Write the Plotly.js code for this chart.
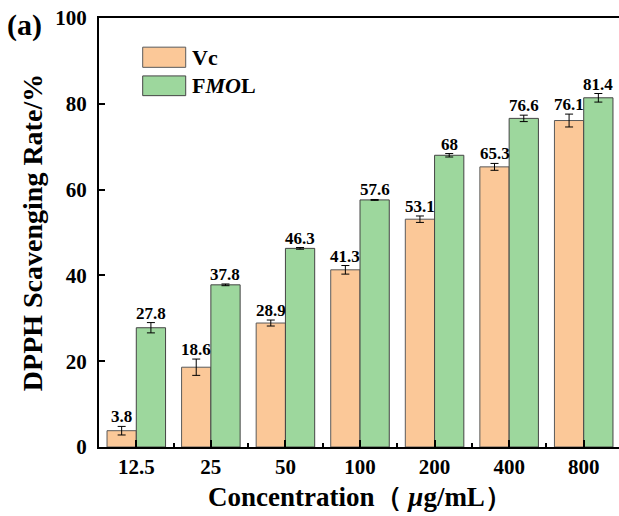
<!DOCTYPE html>
<html>
<head>
<meta charset="utf-8">
<script src="https://cdn.plot.ly/plotly-3.0.1.min.js"></script>
<style>
  html, body { margin: 0; padding: 0; overflow: hidden; background: #fff; }
  #chart { width: 621px; height: 516px; }
</style>
</head>
<body>
<div id="chart"></div>
<script>
// DPPH radical scavenging rate at each concentration
const concentrations = ['12.5', '25', '50', '100', '200', '400', '800'];
const vcRate   = [3.8, 18.6, 28.9, 41.3, 53.1, 65.3, 76.1];
const vcErr    = [1.0, 1.9, 0.7, 1.0, 0.75, 0.8, 1.5];
const fmolRate = [27.8, 37.8, 46.3, 57.6, 68, 76.6, 81.4];
const fmolErr  = [1.2, 0.2, 0.2, 0.1, 0.4, 0.75, 1.0];

const FONT = 'Liberation Serif, Times New Roman, serif';
const idx = concentrations.map((_, i) => i);
const BARGAP = 0.215;
const half = (1 - BARGAP) / 4;   // offset of each bar centre from the group centre

const errStyle = { type: 'data', visible: true, color: '#000', thickness: 1, width: 4 };

const traces = [
  {
    type: 'bar', name: 'Vc', x: idx, y: vcRate,
    marker: { color: '#FBC898', line: { color: '#5a5a5a', width: 1 } },
    error_y: Object.assign({ array: vcErr }, errStyle),
    hoverinfo: 'skip'
  },
  {
    type: 'bar', name: 'FMOL', x: idx, y: fmolRate,
    marker: { color: '#9DD79D', line: { color: '#444', width: 1 } },
    error_y: Object.assign({ array: fmolErr }, errStyle),
    hoverinfo: 'skip'
  }
];

// value labels sit just above each error bar
const labelFont = { family: FONT, size: 17, color: '#000', weight: 'bold' };
const annotations = [];
idx.forEach(i => {
  annotations.push({
    x: i - half, y: vcRate[i] + vcErr[i], xref: 'x', yref: 'y',
    text: String(vcRate[i]), showarrow: false, yanchor: 'bottom', yshift: -2,
    font: labelFont
  });
  annotations.push({
    x: i + half, y: fmolRate[i] + fmolErr[i], xref: 'x', yref: 'y',
    text: String(fmolRate[i]), showarrow: false, yanchor: 'bottom', yshift: -2,
    font: labelFont
  });
});

// panel tag
annotations.push({
  x: 0, y: 1, xref: 'paper', yref: 'paper', xanchor: 'left', yanchor: 'top',
  text: '(a)', showarrow: false, xshift: -94, yshift: 12,
  font: { family: FONT, size: 30, color: '#000', weight: 'bold' }
});

// legend entries
const legendItems = [
  { label: 'Vc', color: '#FBC898', y0: 88.5, y1: 93.2, line: '#5a5a5a' },
  { label: 'F<i>MO</i>L', color: '#9DD79D', y0: 81.9, y1: 86.5, line: '#444' }
];
const shapes = [];
legendItems.forEach(it => {
  shapes.push({
    type: 'rect', xref: 'paper', yref: 'y', x0: 0.0837, x1: 0.1661, y0: it.y0, y1: it.y1,
    fillcolor: it.color, line: { color: it.line, width: 1 }
  });
  annotations.push({
    x: 0.1745, y: (it.y0 + it.y1) / 2, xref: 'paper', yref: 'y',
    xanchor: 'left', yanchor: 'middle', text: it.label, showarrow: false,
    font: { family: FONT, size: 22, color: '#000', weight: 'bold' }
  });
});

const layout = {
  width: 621, height: 516,
  margin: { l: 99, r: 0, t: 18, b: 69 },
  paper_bgcolor: '#fff', plot_bgcolor: '#fff',
  barmode: 'group', bargap: BARGAP, bargroupgap: 0,
  showlegend: false,
  font: { family: FONT, color: '#000' },
  xaxis: {
    range: [-0.5, 6.5], tickmode: 'array', tickvals: idx, ticktext: concentrations,
    ticks: 'inside', ticklen: 7, tickwidth: 2, tickcolor: '#000',
    minor: { tickmode: 'linear', tick0: 0.5, dtick: 1, ticks: 'inside', ticklen: 4, tickwidth: 2, tickcolor: '#000' },
    showline: true, linecolor: '#000', linewidth: 2, mirror: true,
    showgrid: false, zeroline: false,
    tickfont: { family: FONT, size: 21, color: '#000', weight: 'bold' },
    title: {
      text: 'Concentration（ <i>μ</i>g/mL）', standoff: 9,
      font: { family: FONT, size: 27, color: '#000', weight: 'bold' }
    }
  },
  yaxis: {
    range: [0, 100], tickmode: 'linear', tick0: 0, dtick: 20,
    ticks: 'inside', ticklen: 6, tickwidth: 2, tickcolor: '#000',
    ticklabelstandoff: 6,
    showline: true, linecolor: '#000', linewidth: 2, mirror: true,
    showgrid: false, zeroline: false,
    tickfont: { family: FONT, size: 21, color: '#000', weight: 'bold' },
    title: {
      text: 'DPPH Scavenging Rate/%', standoff: 4,
      font: { family: FONT, size: 28, color: '#000', weight: 'bold' }
    }
  },
  annotations: annotations,
  shapes: shapes
};

Plotly.newPlot('chart', traces, layout, { staticPlot: true, displayModeBar: false });
</script>
</body>
</html>
